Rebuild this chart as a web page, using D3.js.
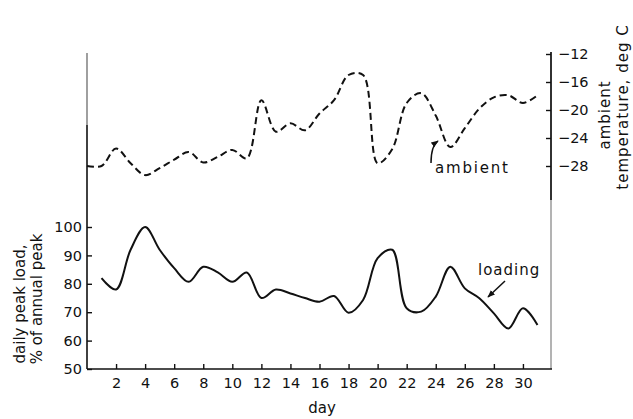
<!DOCTYPE html>
<html>
<head>
<meta charset="utf-8">
<script src="https://cdn.jsdelivr.net/npm/d3@7"></script>
<style>
  body { margin: 0; background: #fff; }
  svg text { font-family: "DejaVu Sans", sans-serif; fill: #111; }
</style>
</head>
<body>
<svg id="chart" width="633" height="419"></svg>
<script>
// daily peak load, % of annual peak (days 1..31)
const loadDays = d3.range(1, 32);
const loading = [82, 78, 92, 100, 92, 85.5, 80.7, 86, 84, 80.7, 84, 75, 78, 76.6, 75,
                 73.7, 75.7, 69.8, 74.3, 89, 92, 71.4, 70.2, 75.5, 86, 78.4, 74.9, 69.6, 64.3, 71.4, 65.5];

// ambient temperature, deg C (days 0..31)
const ambDays = d3.range(0, 32);
const ambient = [-28, -28, -25.5, -27.6, -29.3, -28.3, -27.1, -26, -27.5, -26.7, -25.7, -26.9,
                 -18.6, -23.1, -21.9, -22.9, -20.5, -18.6, -15, -15, -27.6, -25.6, -19, -17.6,
                 -20.8, -25.3, -22.6, -19.8, -18.2, -17.9, -19, -17.9];

const dayTicks = d3.range(2, 31, 2);
const loadTicks = [50, 60, 70, 80, 90, 100];
const tempTicks = [-12, -16, -20, -24, -28];

const svg = d3.select("#chart");

const x = d3.scaleLinear().domain([0, 32]).range([87, 552]);
const yL = d3.scaleLinear().domain([50, 100]).range([369, 227]);
const yR = d3.scaleLinear().domain([-28, -12]).range([166, 54]);

// axis lines
svg.append("path").attr("d", "M551,52 V369")
  .attr("fill", "none").attr("stroke", "#a0a0a0").attr("stroke-width", 1.6);
svg.append("path").attr("d", "M551,52 V200")
  .attr("fill", "none").attr("stroke", "#111").attr("stroke-width", 1.6);
svg.append("line").attr("x1", 87).attr("x2", 552).attr("y1", 369).attr("y2", 369)
  .attr("stroke", "#111").attr("stroke-width", 1.6);
svg.append("line").attr("x1", 87).attr("x2", 87).attr("y1", 53).attr("y2", 125)
  .attr("stroke", "#888").attr("stroke-width", 1.6);
svg.append("line").attr("x1", 87).attr("x2", 87).attr("y1", 125).attr("y2", 369)
  .attr("stroke", "#111").attr("stroke-width", 1.6);

// axes
const xAxis = svg.append("g").attr("transform", "translate(0,369)")
  .call(d3.axisBottom(x).tickValues(dayTicks).tickSize(-5).tickPadding(9).tickSizeOuter(0));
const lAxis = svg.append("g").attr("transform", "translate(87,0)")
  .call(d3.axisLeft(yL).tickValues(loadTicks).tickSize(-5).tickPadding(5).tickSizeOuter(0));
const rAxis = svg.append("g").attr("transform", "translate(551,0)")
  .call(d3.axisRight(yR).tickValues(tempTicks).tickSize(-5).tickPadding(7).tickSizeOuter(0)
    .tickFormat(d => "\u2212" + Math.abs(d)));

[xAxis, lAxis, rAxis].forEach(a => {
  a.select(".domain").remove();
  a.selectAll("line").attr("stroke", "#111").attr("stroke-width", 1.4);
  a.selectAll("text").style("font-size", "14.5px").attr("fill", "#111");
});

// series
const loadLine = d3.line().x((d, i) => x(loadDays[i])).y(d => yL(d)).curve(d3.curveCatmullRom.alpha(0.5));
svg.append("path").attr("d", loadLine(loading))
  .attr("fill", "none").attr("stroke", "#111").attr("stroke-width", 2);

const ambLine = d3.line().x((d, i) => x(ambDays[i])).y(d => yR(d)).curve(d3.curveCatmullRom.alpha(0.5));
svg.append("path").attr("d", ambLine(ambient))
  .attr("fill", "none").attr("stroke", "#111").attr("stroke-width", 2)
  .attr("stroke-dasharray", "7,4");

// axis titles
svg.append("text").attr("transform", "translate(25,304) rotate(-90)")
  .attr("text-anchor", "middle").style("font-size", "15px").text("daily peak load,");
svg.append("text").attr("transform", "translate(42,299) rotate(-90)")
  .attr("text-anchor", "middle").style("font-size", "15px").text("% of annual peak");
svg.append("text").attr("transform", "translate(610,115) rotate(-90)")
  .attr("text-anchor", "middle").style("font-size", "15px").attr("letter-spacing", 1).text("ambient");
svg.append("text").attr("transform", "translate(628,107) rotate(-90)")
  .attr("text-anchor", "middle").style("font-size", "15px").attr("letter-spacing", 1).text("temperature, deg C");
svg.append("text").attr("x", 322).attr("y", 413)
  .attr("text-anchor", "middle").style("font-size", "15px").text("day");

// annotations
svg.append("defs").append("marker").attr("id", "ah")
  .attr("viewBox", "0 0 10 10").attr("refX", 9).attr("refY", 5)
  .attr("markerWidth", 5).attr("markerHeight", 5).attr("orient", "auto")
  .append("path").attr("d", "M0,1 L10,5 L0,9 Z").attr("fill", "#111");

svg.append("text").attr("x", 478).attr("y", 275).style("font-size", "15px")
  .attr("letter-spacing", 1).text("loading");
svg.append("line").attr("x1", 505).attr("y1", 281).attr("x2", 488).attr("y2", 297)
  .attr("stroke", "#111").attr("stroke-width", 1.5).attr("marker-end", "url(#ah)");

svg.append("text").attr("x", 435).attr("y", 173).style("font-size", "15px")
  .attr("letter-spacing", 1.8).text("ambient");
svg.append("path").attr("d", "M431,163 Q431,146 438,141")
  .attr("fill", "none").attr("stroke", "#111").attr("stroke-width", 1.5).attr("marker-end", "url(#ah)");
</script>
</body>
</html>
